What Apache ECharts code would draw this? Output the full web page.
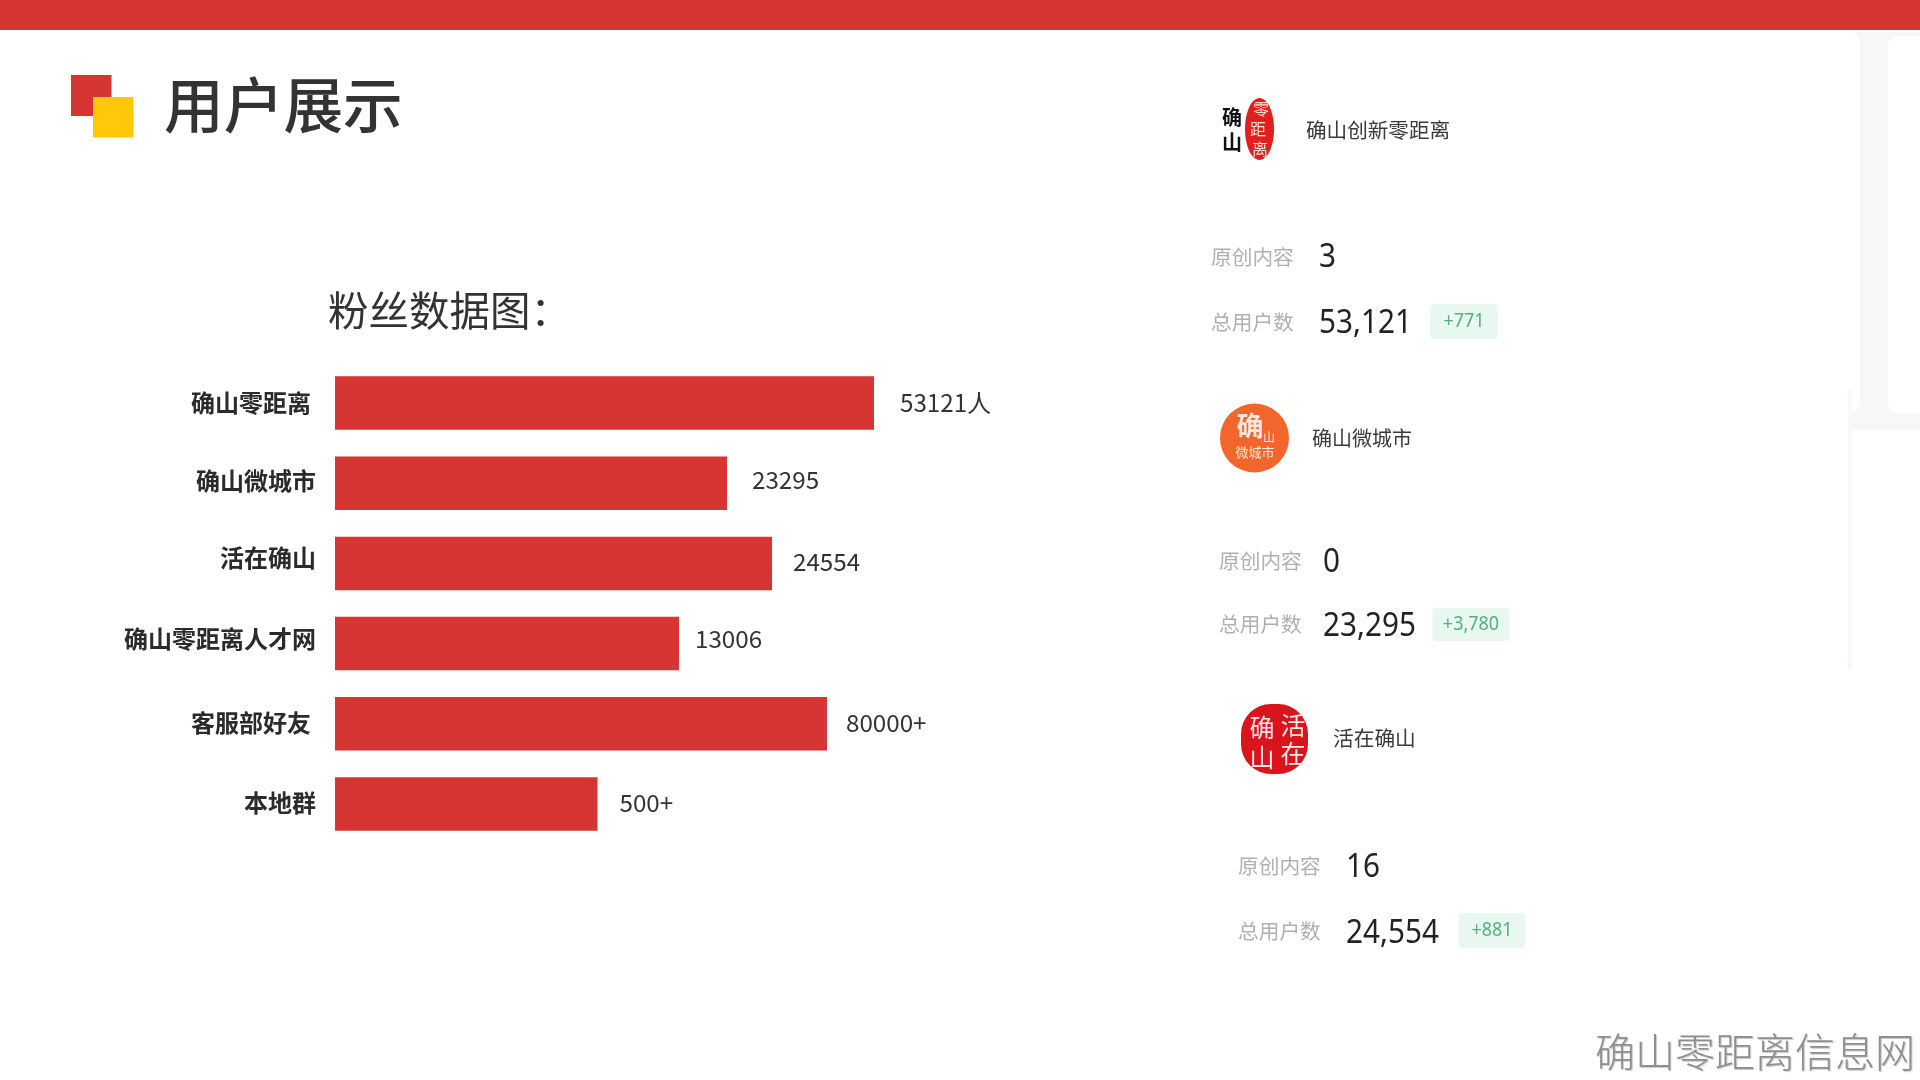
<!DOCTYPE html>
<html><head><meta charset="utf-8">
<style>html,body{margin:0;padding:0;background:#fff}#c{width:1920px;height:1080px}</style>
<script src="https://cdn.jsdelivr.net/npm/echarts@6/dist/echarts.min.js"></script>
</head><body><div id="c"></div>
<script>
// Category names, drawn bar lengths (the source bars are not to scale with their labels) and label texts
const categories = ['确山零距离','确山微城市','活在确山','确山零距离人才网','客服部好友','本地群'];
const barLengths = [539, 392, 437, 344, 492, 262.5];
const valueLabels = ['53121人','23295','24554','13006','80000+','500+'];
const accountNames = ['确山创新零距离','确山微城市','活在确山'];
const originalCounts = ['3','0','16'];
const totalUsers = ['53,121','23,295','24,554'];
const userDeltas = ['+771','+3,780','+881'];

const CJK = '"Noto Sans CJK SC","Noto Sans",sans-serif';
const NUM = '"Noto Sans",sans-serif';
const labelGap = [26, 25, 21, 16, 19, 22];
const labelShift = [0, -3, -2, -5, -1, -1];
const catPad = [[0,5,0,0],[0,0,5,0],[0,0,11,0],[0,0,9,0],[0,5,2,0],[0,0,2,0]];

const rich = {};
catPad.forEach((p,i)=>{ rich['s'+i] = {padding:p, fontFamily:CJK, fontWeight:'bold', fontSize:24, color:'#2b2b2b'}; });

const cards = [
 {name:[1306,130.5], nameSize:20.6, lab:1211, lab1:257, lab2:322, val:1319, v1:258, v2:324, badge:[1430,304,68,35]},
 {name:[1312,438.5], nameSize:20, lab:1219, lab1:561.5, lab2:624.5, val:1323, v1:563, v2:626.5, badge:[1432.5,608,77,33]},
 {name:[1333,738.5], nameSize:20.7, lab:1238, lab1:866, lab2:931, val:1346, v1:868, v2:933.5, badge:[1458.5,913,67,35]}
];
function txt(x,y,t,size,color,extra,el){
  return Object.assign({type:'text',x,y,silent:true,style:Object.assign({text:t,fontSize:size,fill:color,fontFamily:CJK,align:'left',verticalAlign:'middle'},extra||{})},el||{});
}
function rect(x,y,w,h,fill,r){return {type:'rect',silent:true,shape:{x,y,width:w,height:h,r:r||0},style:{fill}};}
const g = [];
// faint background panels behind the right-hand column
g.push(rect(1852,32,68,398,'#F6F7F9'));
g.push(rect(1660,32,200,381,'#FFFFFF',10));
g.push(rect(1888,36,60,377,'#FFFFFF',10));
g.push(rect(1848,389,4,281,'#F7F8FA'));
// top band and title mark
g.push(rect(0,0,1920,30,'#D53533'));
g.push(rect(71,75,40.5,41,'#D53533'));
g.push(rect(93,97,40.5,40.5,'#FFC809'));
g.push(txt(164,105,'用户展示',59.7,'#333333',{fontWeight:500}));
g.push(txt(328,311,'粉丝数据图：',40.5,'#333333',{fontWeight:400}));
g.push(txt(1595,1052,'确山零距离信息网',40,'#8f8f8f',{fontWeight:300,textShadowColor:'#c8c8c8',textShadowOffsetX:1,textShadowOffsetY:1,textShadowBlur:1}));
// cards
cards.forEach((c,i)=>{
  g.push(txt(c.name[0],c.name[1],accountNames[i],c.nameSize,'#3a3a3a'));
  g.push(txt(c.lab,c.lab1,'原创内容',20.7,'#b0b0b0'));
  g.push(txt(c.lab,c.lab2,'总用户数',20.7,'#b0b0b0'));
  g.push(txt(c.val,c.v1,originalCounts[i],29.7,'#222222',{fontFamily:NUM},{scaleY:1.12}));
  g.push(txt(c.val,c.v2,totalUsers[i],29.7,'#222222',{fontFamily:NUM},{scaleY:1.12}));
  const b=c.badge;
  g.push(rect(b[0],b[1],b[2],b[3],'#E8F7EF',4));
  g.push(txt(b[0]+b[2]/2,b[1]+b[3]/2,userDeltas[i],18,'#55B07F',{align:'center',fontFamily:NUM},{scaleY:1.1}));
});
// logos
g.push({type:'ellipse',silent:true,shape:{cx:1259.5,cy:129,rx:14.5,ry:31},style:{fill:'#E0201C'}});
g.push(txt(1232,117,'确',20,'#111',{align:'center',fontWeight:'bold'}));
g.push(txt(1232,142,'山',20,'#111',{align:'center',fontWeight:'bold'}));
[['零',1261,109],['距',1258,129],['离',1260,149]].forEach(a=>g.push(txt(a[1],a[2],a[0],16,'#ffdcd4',{align:'center'})));
g.push({type:'circle',silent:true,shape:{cx:1254.5,cy:438,r:34.5},style:{fill:'#F2652B'}});
g.push(txt(1250,426,'确',27,'#fde6da',{align:'center',fontWeight:'bold'}));
g.push(txt(1269,437,'山',12,'#fde6da',{align:'center'}));
g.push(txt(1255,452,'微城市',13,'#fde6da',{align:'center'}));
g.push({type:'rect',silent:true,shape:{x:1241,y:704,width:67,height:70,r:30},style:{fill:'#D9141C'}});
[['确',1262,727],['活',1293,725],['山',1262,757],['在',1293,753]].forEach(a=>g.push(txt(a[1],a[2],a[0],25,'#ffe6e6',{align:'center'})));

const chart = echarts.init(document.getElementById('c'),null,{renderer:'canvas'});
chart.setOption({
  animation:false,
  backgroundColor:'#fff',
  graphic:g,
  grid:{left:335,top:363,width:600,height:481,containLabel:false},
  xAxis:{type:'value',min:0,max:600,show:false},
  yAxis:{type:'category',inverse:true,data:categories,
    axisLine:{show:false},axisTick:{show:false},splitLine:{show:false},
    axisLabel:{margin:19,formatter:(v,i)=>'{s'+i+'|'+v+'}',rich}},
  series:[{type:'bar',barWidth:53.5,itemStyle:{color:'#D53533'},
    data:barLengths.map((v,i)=>({value:v,label:{show:true,position:'right',distance:labelGap[i],offset:[0,labelShift[i]],
      formatter:valueLabels[i],fontFamily:CJK,fontSize:24.2,fontWeight:400,color:'#333'}}))}]
});
</script></body></html>
